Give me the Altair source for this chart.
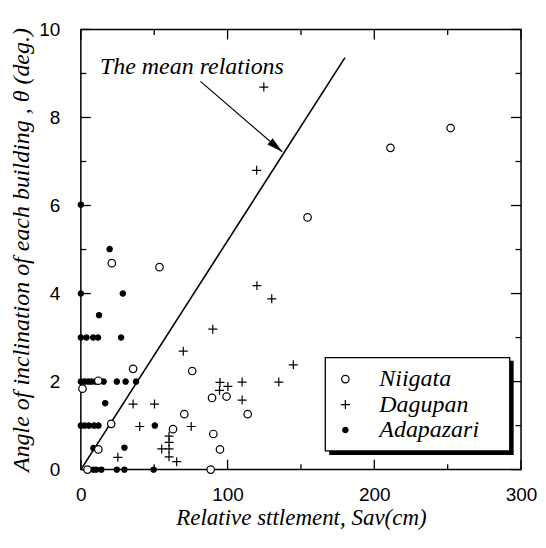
import altair as alt
import pandas as pd

# ---------------- data ----------------
sites = ["Niigata", "Dagupan", "Adapazari"]

niigata_x = [252, 211, 154.5, 53.6, 21.1, 35.6, 75.9, 11.9, 1.1, 89.4, 99.3, 70.5,
             113.7, 20.7, 62.8, 90.3, 11.9, 94.8, 4.5, 88.5]
niigata_y = [7.76, 7.31, 5.73, 4.60, 4.69, 2.29, 2.24, 2.02, 1.84, 1.63, 1.66, 1.26,
             1.26, 1.04, 0.92, 0.81, 0.46, 0.46, 0.0, 0.0]

dagupan_x = [124.7, 119.8, 120.0, 130.1, 89.9, 69.8, 144.8, 94.8, 100.2, 94.5, 109.9,
             109.9, 134.9, 35.6, 50.2, 40.1, 75.2, 60.1, 60.1, 55.1, 60.1, 60.1, 65.3, 25.2]
dagupan_y = [8.69, 6.80, 4.18, 3.88, 3.19, 2.69, 2.38, 1.98, 1.89, 1.80, 1.99,
             1.58, 1.99, 1.49, 1.49, 0.98, 0.98, 0.76, 0.62, 0.47, 0.47, 0.29, 0.18, 0.28]

adapazari_x = [0, 19.6, 0, 28.6, 12.4,
               0, 3.8, 8.4, 11.7, 27.4,
               0, 2.5, 5, 7.2, 10, 15.5, 24.5, 30.5, 37.6,
               16.6,
               0, 2.5, 5.5, 9, 12,
               50.4, 8.5, 29.7,
               8.5, 10.5, 14, 24.5, 29.7, 49.6]
adapazari_y = [6.02, 5.01, 4.0, 4.0, 3.51,
               3, 3, 3, 3, 3,
               2, 2, 2, 2, 2, 2, 2, 2, 2,
               1.51,
               1, 1, 1, 1, 1,
               1.0, 0.49, 0.5,
               0, 0, 0, 0, 0, 0]

mean_x = [0, 180]
mean_y = [0, 9.36]

arrow_x = [81.5, 137.2]
arrow_y = [8.82, 7.22]
note_text = ["The mean relations"]
note_x = [13]
note_y = [8.98]

x_major = [0, 100, 200, 300]
x_minor = [50, 150, 250]
y_major = [0, 2, 4, 6, 8, 10]
y_minor = [1, 3, 5, 7, 9]

# ---------------- tables ----------------
rows = []
for name, xs_, ys_ in [("Adapazari", adapazari_x, adapazari_y),
                       ("Dagupan", dagupan_x, dagupan_y),
                       ("Niigata", niigata_x, niigata_y)]:
    rows += [{"site": name, "x": a, "y": b} for a, b in zip(xs_, ys_)]
pts = pd.DataFrame(rows)

W, H = 441, 441
xsc = alt.Scale(domain=[0, 300], nice=False, zero=False)
ysc = alt.Scale(domain=[0, 10], nice=False, zero=False)

SERIF = "Liberation Serif"
SANS = "Liberation Sans"
PLUS = "M-1,0L1,0M0,-1L0,1"

xaxis = alt.Axis(values=x_major, ticks=False, tickSize=0, domain=False, grid=False,
                 labelFont=SANS, labelFontSize=19, labelPadding=16, labelColor="black",
                 labelFlush=False,
                 title="Relative sttlement, Sav(cm)", titleFont=SERIF,
                 titleFontStyle="italic", titleFontWeight="normal", titleFontSize=23,
                 titlePadding=2, titleColor="black")
yaxis = alt.Axis(values=y_major, ticks=False, tickSize=0, domain=False, grid=False,
                 labelFont=SANS, labelFontSize=19, labelPadding=21, labelColor="black",
                 labelFlush=False,
                 title="Angle of inclination of each building , \u03b8 (deg.)",
                 titleFont=SERIF, titleFontStyle="italic", titleFontWeight="normal",
                 titleFontSize=24, titlePadding=5, titleColor="black")


def X(field):
    return alt.X(field, scale=xsc, axis=xaxis)


def Y(field):
    return alt.Y(field, scale=ysc, axis=yaxis)


leg = alt.Legend(orient="none", legendX=253, legendY=338.3, title=None, padding=0,
                 labelFont=SERIF, labelFontStyle="italic", labelFontSize=24,
                 labelColor="black", labelOffset=22, rowPadding=1.5,
                 symbolStrokeWidth=1.2)

points = alt.Chart(pts).mark_point(strokeWidth=1.2, opacity=1).encode(
    x=X("x:Q"),
    y=Y("y:Q"),
    shape=alt.Shape("site:N", scale=alt.Scale(domain=sites, range=["circle", PLUS, "circle"]), legend=leg),
    fill=alt.Fill("site:N", scale=alt.Scale(domain=sites, range=["white", "transparent", "black"]), legend=leg),
    stroke=alt.Stroke("site:N", scale=alt.Scale(domain=sites, range=["black", "black", "black"]), legend=leg),
    size=alt.Size("site:N", scale=alt.Scale(type="ordinal", domain=sites, range=[56, 81, 28]), legend=leg),
)


def ticks(vals, side, length):
    df = pd.DataFrame({"v": vals})
    base = alt.Chart(df).mark_rule(color="black", strokeWidth=1.3)
    if side == "bottom":
        return base.encode(x=X("v:Q"), y=alt.value(H), y2=alt.value(H - length))
    if side == "top":
        return base.encode(x=X("v:Q"), y=alt.value(0), y2=alt.value(length))
    if side == "left":
        return base.encode(y=Y("v:Q"), x=alt.value(0), x2=alt.value(length))
    return base.encode(y=Y("v:Q"), x=alt.value(W), x2=alt.value(W - length))


tick_layers = []
for side in ["bottom", "top"]:
    tick_layers.append(ticks(x_major, side, 10))
    tick_layers.append(ticks(x_minor, side, 5.5))
for side in ["left", "right"]:
    tick_layers.append(ticks(y_major, side, 10))
    tick_layers.append(ticks(y_minor, side, 5.5))

mean_line = alt.Chart(pd.DataFrame({"x": mean_x, "y": mean_y})).mark_line(
    color="black", strokeWidth=1.6).encode(x=X("x:Q"), y=Y("y:Q"))

arrow_df = pd.DataFrame({"x": arrow_x, "y": arrow_y})
arrow_line = alt.Chart(arrow_df).mark_line(color="black", strokeWidth=1.2).encode(
    x=X("x:Q"), y=Y("y:Q"))
arrow_head = alt.Chart(arrow_df.iloc[[1]]).mark_point(
    shape="M0,0L-2,-0.5L-2,0.5Z", filled=True, fill="black", size=256, angle=40.8,
    opacity=1, strokeWidth=0).encode(x=X("x:Q"), y=Y("y:Q"))

note = alt.Chart(pd.DataFrame({"x": note_x, "y": note_y, "t": note_text})).mark_text(
    align="left", baseline="alphabetic", font=SERIF, fontStyle="italic", fontSize=24,
    color="black").encode(x=X("x:Q"), y=Y("y:Q"), text="t:N")

one = alt.Data(values=[{}])
shadow = alt.Chart(one).mark_rect(fill="black").encode(
    x=alt.value(248.8), x2=alt.value(433.6), y=alt.value(332), y2=alt.value(426.3))
box = alt.Chart(one).mark_rect(fill="white", stroke="black", strokeWidth=1.3).encode(
    x=alt.value(244.9), x2=alt.value(429.7), y=alt.value(328.7), y2=alt.value(422.3))

chart = alt.layer(
    *tick_layers, shadow, box, mean_line, arrow_line, arrow_head, note, points
).properties(
    width=W, height=H,
    autosize=alt.AutoSizeParams(type="none"),
    padding={"left": 73, "top": 21, "right": 17, "bottom": 62},
).configure_view(stroke="black", strokeWidth=1.5)

chart.save("out.html", embed_options={"renderer": "svg", "actions": False})
